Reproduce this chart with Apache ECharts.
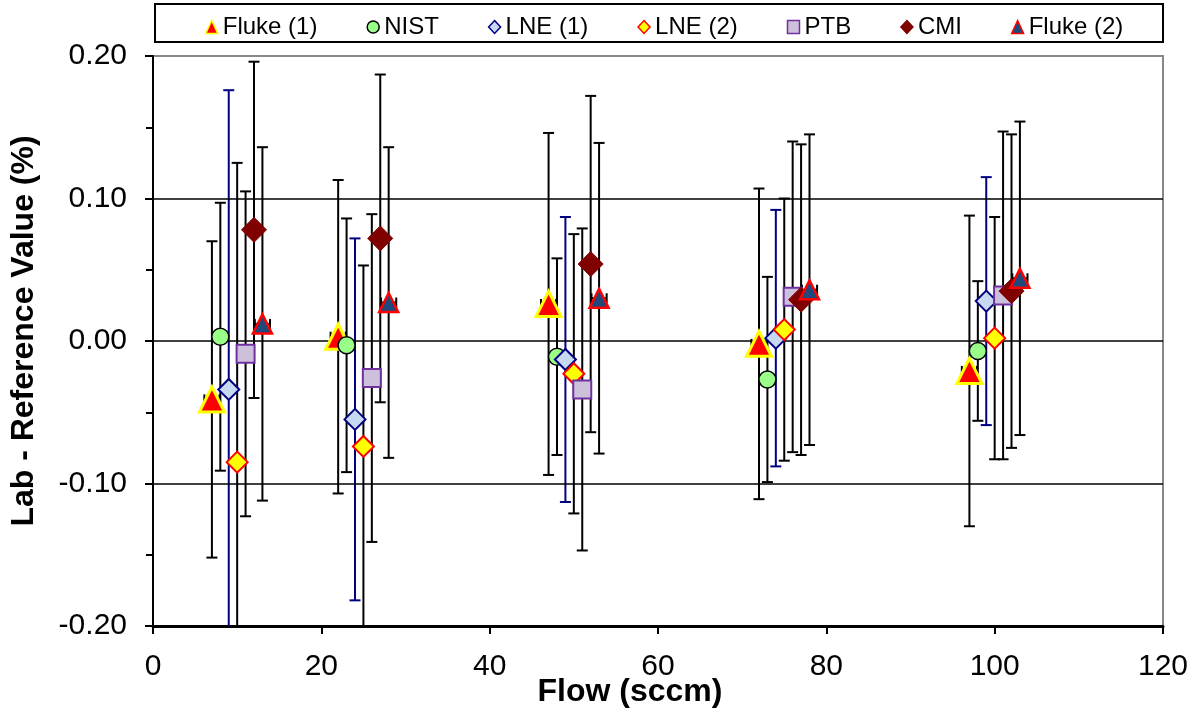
<!DOCTYPE html>
<html><head><meta charset="utf-8">
<script src="https://cdn.jsdelivr.net/npm/echarts@6/dist/echarts.min.js"></script>
<style>html,body{margin:0;padding:0;background:#fff}#c{width:1200px;height:713px}</style>
</head><body><div id="c"></div>
<script>
// ---- data ----
const seriesNames = ['Fluke (1)', 'NIST', 'LNE (1)', 'LNE (2)', 'PTB', 'CMI', 'Fluke (2)'];
const flukeAFlow = [7, 22, 47, 72, 97];
const flukeAVal  = [-0.041, 0.003, 0.026, -0.002, -0.021];
const flukeAErr  = [0.111, 0.110, 0.120, 0.109, 0.109];
const nistFlow = [8, 23, 48, 73, 98];
const nistVal  = [0.003, -0.003, -0.011, -0.027, -0.007];
const nistErr  = [0.094, 0.089, 0.069, 0.072, 0.049];
const lne1Flow = [9, 24, 49, 74, 99];
const lne1Val  = [-0.034, -0.055, -0.013, 0.002, 0.028];
const lne1Err  = [0.210, 0.127, 0.100, 0.090, 0.087];
const lne2Flow = [10, 25, 50, 75, 100];
const lne2Val  = [-0.085, -0.074, -0.023, 0.008, 0.002];
const lne2Err  = [0.210, 0.127, 0.098, 0.092, 0.085];
const ptbFlow = [11, 26, 51, 76, 101];
const ptbVal  = [-0.009, -0.026, -0.034, 0.031, 0.032];
const ptbErr  = [0.114, 0.115, 0.113, 0.109, 0.115];
const cmiFlow = [12, 27, 52, 77, 102];
const cmiVal  = [0.078, 0.072, 0.054, 0.029, 0.035];
const cmiErr  = [0.118, 0.115, 0.118, 0.109, 0.110];
const flukeBFlow = [13, 28, 53, 78, 103];
const flukeBVal  = [0.012, 0.027, 0.030, 0.036, 0.044];
const flukeBErr  = [0.124, 0.109, 0.109, 0.109, 0.110];
const flukeFlowErr = 0.9;
const gridLevels = [0.1, 0, -0.1];
const xTicks = {min: 0, max: 120, step: 20};
const yTicks = {min: -0.2, max: 0.2, step: 0.1};

// ---- chart ----
const FONT = '"Liberation Sans", Arial, sans-serif';
function zip3(a, b, c) { return a.map((v, i) => [v, b[i], c[i]]); }

function yErrSeries(name, xs, ys, es, color) {
  return {
    type: 'custom', name: name + ' U', clip: true, z: 2, silent: true,
    data: zip3(xs, ys, es), encode: {x: 0, y: 1},
    renderItem: function (params, api) {
      const x = api.value(0), y = api.value(1), e = api.value(2);
      const t = api.coord([x, y + e]), b = api.coord([x, y - e]);
      const cw = 5.5, st = {stroke: color, lineWidth: 2};
      return {type: 'group', children: [
        {type: 'line', shape: {x1: t[0], y1: t[1], x2: b[0], y2: b[1]}, style: st},
        {type: 'line', shape: {x1: t[0] - cw, y1: t[1], x2: t[0] + cw, y2: t[1]}, style: st},
        {type: 'line', shape: {x1: b[0] - cw, y1: b[1], x2: b[0] + cw, y2: b[1]}, style: st}
      ]};
    }
  };
}
function xErrSeries(name, xs, ys, e, color) {
  return {
    type: 'custom', name: name + ' Ux', clip: true, z: 2, silent: true,
    data: xs.map((v, i) => [v, ys[i]]), encode: {x: 0, y: 1},
    renderItem: function (params, api) {
      const x = api.value(0), y = api.value(1);
      const l = api.coord([x - e, y]), r = api.coord([x + e, y]);
      const ch = 5, st = {stroke: color, lineWidth: 2};
      return {type: 'group', children: [
        {type: 'line', shape: {x1: l[0], y1: l[1], x2: r[0], y2: r[1]}, style: st},
        {type: 'line', shape: {x1: l[0], y1: l[1] - ch, x2: l[0], y2: l[1] + ch}, style: st},
        {type: 'line', shape: {x1: r[0], y1: r[1] - ch, x2: r[0], y2: r[1] + ch}, style: st}
      ]};
    }
  };
}
function scat(name, xs, ys, symbol, size, fill, border, bw) {
  return {
    type: 'scatter', name: name, z: 5, symbol: symbol, symbolSize: size,
    data: xs.map((v, i) => [v, ys[i]]),
    itemStyle: {color: fill, borderColor: border, borderWidth: bw, opacity: 1},
    emphasis: {disabled: true}
  };
}

const series = [
  {type: 'scatter', name: 'grid', data: [], z: 1, silent: true,
   markLine: {silent: true, symbol: 'none', label: {show: false},
     lineStyle: {color: '#000', width: 1.5, type: 'solid'}, animation: false,
     data: gridLevels.map(v => ({yAxis: v}))}},
  yErrSeries('Fluke (1)', flukeAFlow, flukeAVal, flukeAErr, '#000'),
  xErrSeries('Fluke (1)', flukeAFlow, flukeAVal, flukeFlowErr, '#000'),
  yErrSeries('NIST', nistFlow, nistVal, nistErr, '#000'),
  yErrSeries('LNE (1)', lne1Flow, lne1Val, lne1Err, '#000080'),
  yErrSeries('LNE (2)', lne2Flow, lne2Val, lne2Err, '#000'),
  yErrSeries('PTB', ptbFlow, ptbVal, ptbErr, '#000'),
  yErrSeries('CMI', cmiFlow, cmiVal, cmiErr, '#000'),
  yErrSeries('Fluke (2)', flukeBFlow, flukeBVal, flukeBErr, '#000'),
  xErrSeries('Fluke (2)', flukeBFlow, flukeBVal, flukeFlowErr, '#000'),
  scat('Fluke (1)', flukeAFlow, flukeAVal, 'triangle', 25, '#FF0000', '#FFFF00', 3),
  scat('NIST', nistFlow, nistVal, 'circle', 17, '#99FF88', '#000000', 1.5),
  scat('LNE (1)', lne1Flow, lne1Val, 'diamond', 21, '#C6D9F1', '#000080', 2),
  scat('LNE (2)', lne2Flow, lne2Val, 'diamond', 21, '#FFFF00', '#FF0000', 2),
  scat('PTB', ptbFlow, ptbVal, 'rect', 18, '#CCC0DA', '#7030A0', 2),
  scat('CMI', cmiFlow, cmiVal, 'diamond', 25, '#800000', '#800000', 1),
  scat('Fluke (2)', flukeBFlow, flukeBVal, 'triangle', 19, '#1F497D', '#FF0000', 2.5)
];

const chart = echarts.init(document.getElementById('c'), null, {renderer: 'canvas'});
chart.setOption({
  animation: false,
  backgroundColor: '#fff',
  textStyle: {fontFamily: FONT, color: '#000'},
  grid: {left: 153, right: 37, top: 56, bottom: 87, show: true, containLabel: false,
         outerBoundsMode: 'none',
         borderColor: '#888', borderWidth: 2, backgroundColor: 'transparent'},
  legend: {
    data: seriesNames.map(n => ({name: n, itemStyle: {borderWidth: 1.5}})),
    left: 200, top: 10, itemGap: 49, itemWidth: 12, itemHeight: 13,
    textStyle: {fontFamily: FONT, fontSize: 24, color: '#000'},
    selectedMode: false
  },
  graphic: [{type: 'rect', shape: {x: 155, y: 4, width: 1008, height: 38},
    style: {fill: 'none', stroke: '#000', lineWidth: 2}, silent: true}],
  xAxis: {
    type: 'value', min: xTicks.min, max: xTicks.max, interval: xTicks.step,
    name: 'Flow (sccm)', nameLocation: 'middle', nameGap: 50, nameMoveOverlap: false,
    nameTextStyle: {fontFamily: FONT, fontSize: 32, fontWeight: 'bold', color: '#000', padding: [0, 56, 0, 0]},
    axisLine: {show: true, onZero: false, lineStyle: {color: '#000', width: 3}},
    axisTick: {show: true, length: 8, lineStyle: {color: '#000', width: 2}},
    axisLabel: {fontFamily: FONT, fontSize: 30, color: '#000', margin: 26},
    splitLine: {show: false}
  },
  yAxis: {
    type: 'value', min: yTicks.min, max: yTicks.max, interval: yTicks.step,
    name: 'Lab - Reference Value (%)', nameLocation: 'middle', nameGap: 113, nameMoveOverlap: false,
    nameTextStyle: {fontFamily: FONT, fontSize: 32, fontWeight: 'bold', color: '#000', padding: [0, 0, 0, 20]},
    axisLine: {show: true, onZero: false, lineStyle: {color: '#000', width: 2}},
    axisTick: {show: true, length: 8, lineStyle: {color: '#000', width: 2}},
    minorTick: {show: true, splitNumber: 2, length: 7, lineStyle: {color: '#000', width: 2}},
    axisLabel: {fontFamily: FONT, fontSize: 30, color: '#000', margin: 26,
                formatter: v => v.toFixed(2)},
    splitLine: {show: false}
  },
  series: series
});
</script></body></html>
